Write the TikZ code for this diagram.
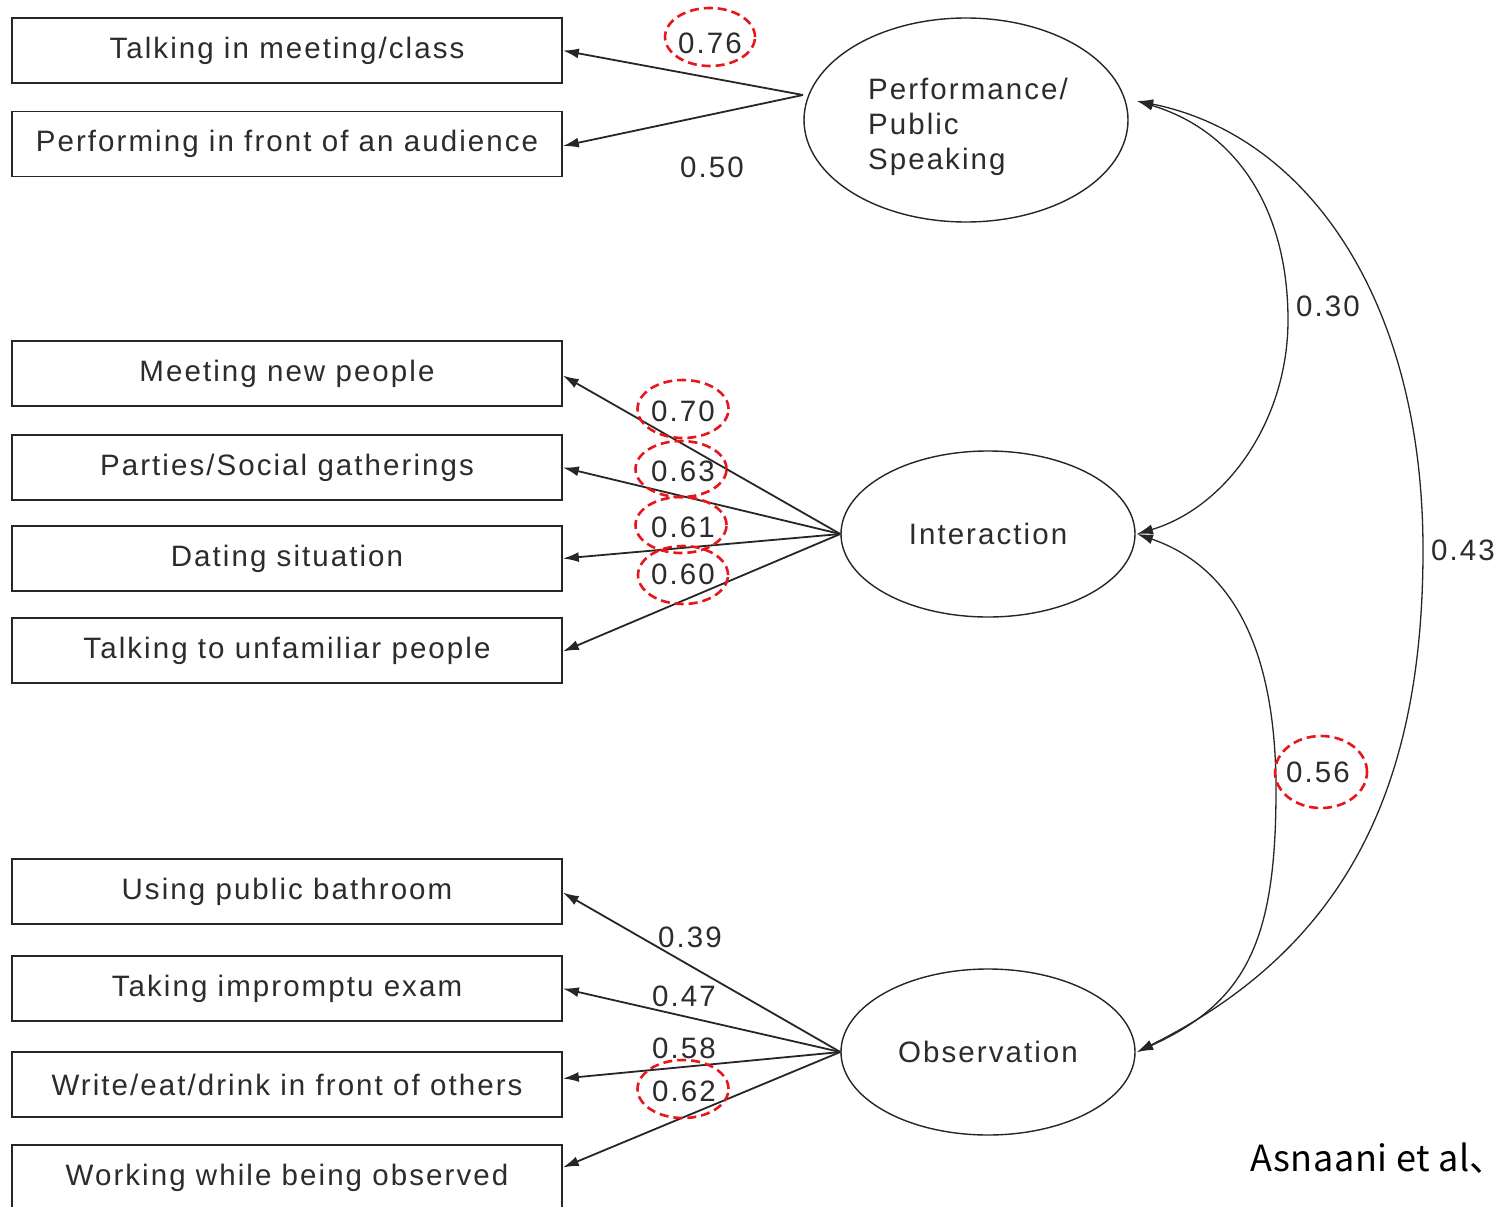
\documentclass[tikz,border=0pt]{standalone}
\usepackage{fontspec}
\setmainfont{Liberation Sans}[LetterSpace=7]
\newfontfamily\jpfont{Noto Sans CJK JP}[LetterSpace=1.5]
\usetikzlibrary{shapes.geometric,arrows.meta}
\definecolor{txt}{HTML}{2C2C2C}
\definecolor{linec}{HTML}{262626}
\definecolor{hlred}{HTML}{E8161B}
\newcommand\fsz{\fontsize{29.5}{35}\selectfont}
\begin{document}
\begin{tikzpicture}[x=1pt,y=-1pt,
  box/.style={draw=linec, line width=1.6pt, minimum width=550pt, minimum height=65pt, inner sep=0pt, font=\fsz, text=txt},
  latent/.style={ellipse, draw=linec, line width=1.4pt, inner sep=0pt, font=\fsz, text=txt},
  lab/.style={font=\fsz, text=txt, inner sep=0pt},
  hl/.style={ellipse, draw=hlred, line width=2.6pt, dash pattern=on 9pt off 5pt, inner sep=0pt},
  load/.style={line width=1.8pt, draw=linec, -{Latex[length=16pt,width=10pt]}},
  corr/.style={line width=1.3pt, draw=linec, {Latex[length=16pt,width=10pt]}-{Latex[length=16pt,width=10pt]}}]
\useasboundingbox[fill=white] (0,0) rectangle (1507,1207);

% indicator boxes
\node[box] (b1) at (287,50.5) {Talking in meeting/class};
\node[box] (b2) at (287,144) {Performing in front of an audience};
\node[box] (b3) at (287,373.5) {Meeting new people};
\node[box] (b4) at (287,467.5) {Parties/Social gatherings};
\node[box] (b5) at (287,558.5) {Dating situation};
\node[box] (b6) at (287,650.5) {Talking to unfamiliar people};
\node[box] (b7) at (287,891.5) {Using public bathroom};
\node[box] (b8) at (287,988.5) {Taking impromptu exam};
\node[box] (b9) at (287,1084.5) {Write/eat/drink in front of others};
\node[box] (b10) at (287,1177.5) {Working while being observed};

% latent factors
\node[latent, minimum width=324pt, minimum height=204pt] (P) at (966,120) {};
\node[lab, align=left] (Ptext) at (968,127) {Performance/\\Public\\Speaking};
\node[latent, minimum width=294pt, minimum height=166pt] (I) at (988,534) {Interaction};
\node[latent, minimum width=294pt, minimum height=166pt] (O) at (988,1052) {Observation};

% loadings
\coordinate (pf) at (803,95);
\draw[load] (pf) -- (b1.east);
\draw[load] (pf) -- ([yshift=-2pt]b2.east);
\draw[load] (I.west) -- ([yshift=-2pt]b3.east);
\draw[load] (I.west) -- (b4.east);
\draw[load] (I.west) -- (b5.east);
\draw[load] (I.west) -- ([yshift=-1pt]b6.east);
\draw[load] (O.west) -- ([yshift=-1pt]b7.east);
\draw[load] (O.west) -- (b8.east);
\draw[load] (O.west) -- ([yshift=6pt]b9.east);
\draw[load] (O.west) -- ([yshift=10pt]b10.east);

% correlations
\coordinate (Ptip) at (1137,101);
\coordinate (Itip) at (1137,534);
\coordinate (Otip) at (1137,1052);
\draw[corr] (Itip) .. controls (1227,507) and (1288,420) .. (1288,320)
                   .. controls (1288,210) and (1237,131) .. (Ptip);
\draw[corr] (Otip) .. controls (1337,952) and (1423,800) .. (1423,550)
                   .. controls (1423,300) and (1307,135) .. (Ptip);
\draw[corr] (Otip) .. controls (1247,1002) and (1276,940) .. (1276,790)
                   .. controls (1276,640) and (1227,565) .. (Itip);

% coefficient labels
\node[lab] (l76) at (710,43) {0.76};
\node[lab] (l50) at (712,167) {0.50};
\node[lab] (l30) at (1328,306) {0.30};
\node[lab] (l43) at (1463,550) {0.43};
\node[lab] (l70) at (683,411) {0.70};
\node[lab] (l63) at (683,471) {0.63};
\node[lab] (l61) at (683,527) {0.61};
\node[lab] (l60) at (683,574) {0.60};
\node[lab] (l56) at (1318,772) {0.56};
\node[lab] (l39) at (690,937) {0.39};
\node[lab] (l47) at (684,996) {0.47};
\node[lab] (l58) at (684,1048) {0.58};
\node[lab] (l62) at (684,1091) {0.62};

% red dashed highlights
\node[hl, minimum width=90pt, minimum height=58pt] (h76) at (710,37) {};
\node[hl, minimum width=91pt, minimum height=58pt] (h70) at (683,409) {};
\node[hl, minimum width=91pt, minimum height=56pt] (h63) at (681,469) {};
\node[hl, minimum width=91pt, minimum height=56pt] (h61) at (681,525) {};
\node[hl, minimum width=90pt, minimum height=58pt] (h60) at (683,575) {};
\node[hl, minimum width=92pt, minimum height=72pt] (h56) at (1321,772) {};
\node[hl, minimum width=91pt, minimum height=58pt] (h62) at (683,1089) {};

% source
\node[anchor=west, inner sep=0pt, font=\jpfont\fontsize{36}{40}\selectfont, text=black] (src) at (1250,1158) {Asnaani et al、};
\end{tikzpicture}
\end{document}
